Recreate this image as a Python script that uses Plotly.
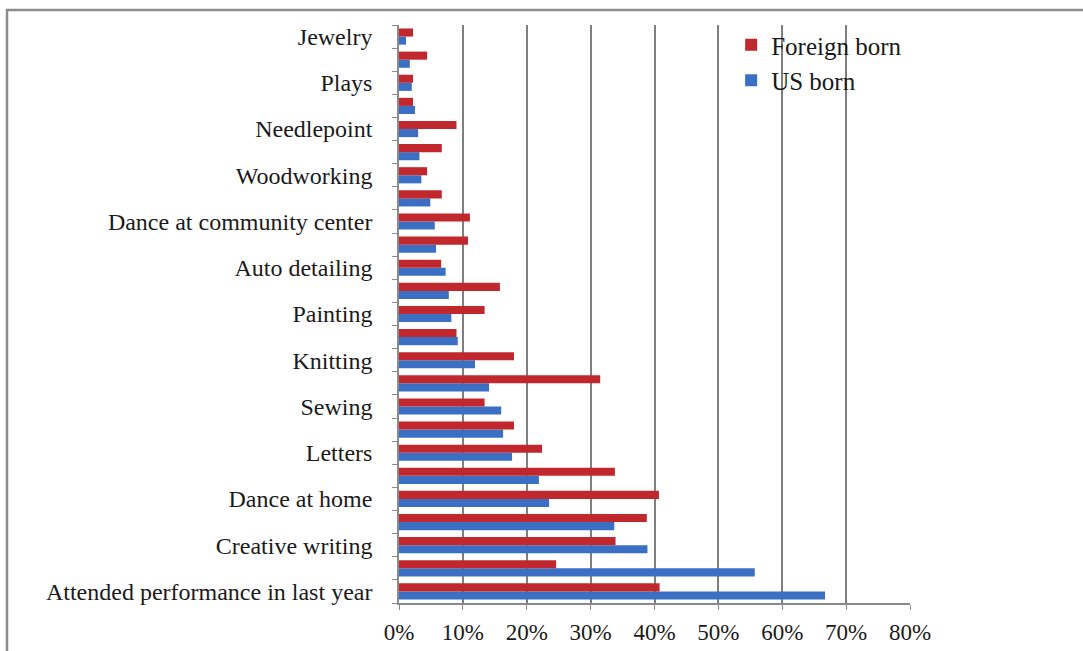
import plotly.graph_objects as go

# Rows from bottom to top; only every other row carries a printed label
categories = [
    "Attended performance in last year", "",
    "Creative writing", "",
    "Dance at home", "",
    "Letters", "",
    "Sewing", "",
    "Knitting", "",
    "Painting", "",
    "Auto detailing", "",
    "Dance at community center", "",
    "Woodworking", "",
    "Needlepoint", "",
    "Plays", "",
    "Jewelry",
]

# Share of respondents (%) for each row, bottom to top
foreign_born = [40.8, 24.6, 33.9, 38.8, 40.7, 33.8, 22.4, 18.0, 13.4, 31.5,
                18.0, 9.0, 13.4, 15.8, 6.6, 10.8, 11.1, 6.7, 4.4, 6.7,
                9.0, 2.2, 2.2, 4.4, 2.2]
us_born = [66.7, 55.7, 38.9, 33.7, 23.5, 21.9, 17.7, 16.3, 16.0, 14.1,
           11.9, 9.2, 8.2, 7.8, 7.3, 5.8, 5.6, 4.9, 3.5, 3.2,
           3.0, 2.5, 2.0, 1.7, 1.1]

x_ticks = [0, 10, 20, 30, 40, 50, 60, 70, 80]
x_tick_labels = [f"{v}%" for v in x_ticks]

positions = list(range(len(categories)))

RED = "#C0282E"
BLUE = "#3B6FC3"
FONT = "Liberation Serif"
TEXT = "#1a1a1a"

fig = go.Figure()
fig.add_trace(go.Bar(
    y=positions, x=us_born, orientation="h", name="US born",
    legendgroup="us", marker=dict(color=BLUE, line=dict(width=0)),
))
fig.add_trace(go.Bar(
    y=positions, x=foreign_born, orientation="h", name="Foreign born",
    legendgroup="foreign", marker=dict(color=RED, line=dict(width=0)),
))

L, R, T, B = 399, 173, 25, 48
W, H = 1083, 651
pw, ph = W - L - R, H - T - B


def px_to_paper(x, y):
    return (x - L) / pw, (H - B - y) / ph


fx0, fy0 = px_to_paper(7, 10)
fx1, fy1 = px_to_paper(1095, 665)

fig.update_layout(
    width=W, height=H,
    margin=dict(l=L, r=R, t=T, b=B, pad=0, autoexpand=False),
    paper_bgcolor="white", plot_bgcolor="white",
    barmode="group", bargap=0.3, bargroupgap=0.0,
    font=dict(family=FONT, size=24, color=TEXT),
    showlegend=True,
    legend=dict(
        x=0.65, y=1.005, xanchor="left", yanchor="top",
        traceorder="reversed", font=dict(family=FONT, size=25, color=TEXT),
        bgcolor="rgba(0,0,0,0)", itemwidth=30, tracegroupgap=6,
    ),
    xaxis=dict(
        range=[0, 80], tickmode="array", tickvals=x_ticks, ticktext=x_tick_labels,
        showgrid=True, gridcolor="#7f7f7f", gridwidth=1.5,
        showline=True, linecolor="#8a8a8a", linewidth=1.5,
        ticks="outside", ticklen=5, tickcolor="#8a8a8a",
        zeroline=False, fixedrange=True, ticklabelstandoff=3,
        automargin=False,
        tickfont=dict(family=FONT, size=23, color=TEXT),
    ),
    yaxis=dict(
        range=[-0.5, len(categories) - 0.5],
        tickmode="array", tickvals=positions, ticktext=categories,
        ticks="", showgrid=False,
        showline=True, linecolor="#8a8a8a", linewidth=1.5,
        minor=dict(tickmode="linear", tick0=-0.5, dtick=1, ticks="outside",
                   ticklen=5, tickcolor="#8a8a8a", showgrid=False),
        zeroline=False, fixedrange=True, ticklabelstandoff=20,
        automargin=False,
        tickfont=dict(family=FONT, size=24, color=TEXT),
    ),
    shapes=[dict(
        type="rect", xref="paper", yref="paper",
        x0=fx0, y0=fy1, x1=fx1, y1=fy0,
        line=dict(color="#8c8c8c", width=2.5), fillcolor="rgba(0,0,0,0)",
        layer="below",
    )],
)

fig.write_html("out.html")
